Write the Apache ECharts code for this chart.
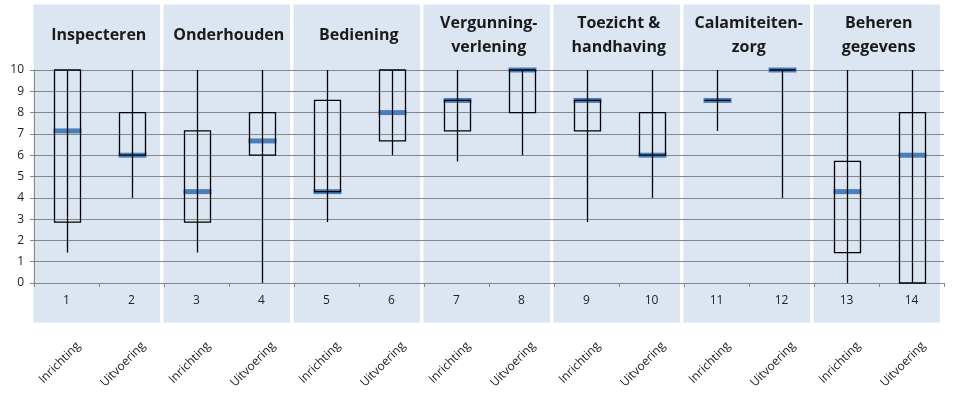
<!DOCTYPE html>
<html>
<head>
<meta charset="utf-8">
<script src="https://cdn.jsdelivr.net/npm/echarts@6/dist/echarts.min.js"></script>
<style>
html,body{margin:0;padding:0;background:#fff;}
#chart{width:960px;height:416px;}
</style>
</head>
<body>
<div id="chart"></div>
<script>
const categories = ['1','2','3','4','5','6','7','8','9','10','11','12','13','14'];
const phaseLabels = ['Inrichting','Uitvoering','Inrichting','Uitvoering','Inrichting','Uitvoering','Inrichting','Uitvoering','Inrichting','Uitvoering','Inrichting','Uitvoering','Inrichting','Uitvoering'];
const groupTitles = ['Inspecteren','Onderhouden','Bediening','Vergunning-\nverlening','Toezicht &\nhandhaving','Calamiteiten-\nzorg','Beheren\ngegevens'];
const groupStart = [0,2,4,6,8,10,12];
const minValues    = [1.43, 4,    1.43, 0,    2.86, 6,    5.71, 6,  2.86, 4, 7.14, 4,  0,    0];
const q1Values     = [2.86, 6,    2.86, 6,    4.29, 6.67, 7.14, 8,  7.14, 6, 8.57, 10, 1.43, 0];
const medianValues = [7.14, 6,    4.29, 6.67, 4.29, 8,    8.57, 10, 8.57, 6, 8.57, 10, 4.29, 6];
const q3Values     = [10,   8,    7.14, 8,    8.57, 10,   8.57, 10, 8.57, 8, 8.57, 10, 5.71, 8];
const maxValues    = [10,   10,   10,   10,   10,   10,   10,   10, 10,   10, 10,   10, 10,   10];
const yMin = 0, yMax = 10, yInterval = 1;

const FONT = 'Open Sans';
const boxData = categories.map((c, i) => [i, minValues[i], q1Values[i], medianValues[i], q3Values[i], maxValues[i]]);
const panelData = groupStart.map((s, g) => [s, g]);

const chart = echarts.init(document.getElementById('chart'), null, {renderer: 'canvas'});
chart.setOption({
  animation: false,
  backgroundColor: '#ffffff',
  grid: [
    {left: 34, right: 16, top: 70, bottom: 133},
    {left: 46, right: 4, top: 70, bottom: 133}
  ],
  xAxis: [
    {
      type: 'category', gridIndex: 0, data: categories, boundaryGap: true, z: 2,
      axisLine: {show: true, lineStyle: {color: '#868686', width: 1}},
      axisTick: {show: true, length: 4, lineStyle: {color: '#868686'}},
      axisLabel: {margin: 12, fontFamily: FONT, fontSize: 12, color: '#222'},
      splitLine: {show: false}
    },
    {
      type: 'category', gridIndex: 1, data: phaseLabels, boundaryGap: true,
      axisLine: {show: false}, axisTick: {show: false},
      axisLabel: {rotate: 45, margin: 61, fontFamily: FONT, fontSize: 12, color: '#222', interval: 0}
    }
  ],
  yAxis: [
    {
      type: 'value', gridIndex: 0, min: yMin, max: yMax, interval: yInterval, z: 2,
      axisLine: {show: true, lineStyle: {color: '#868686'}},
      axisTick: {show: true, length: 4, lineStyle: {color: '#868686'}},
      axisLabel: {margin: 10, fontFamily: FONT, fontSize: 12, color: '#222'},
      splitLine: {show: true, lineStyle: {color: '#868686', width: 1}}
    },
    {type: 'value', gridIndex: 1, min: 0, max: 1, show: false}
  ],
  series: [
    {
      type: 'custom', xAxisIndex: 0, yAxisIndex: 0, z: 1, clip: false, silent: true,
      data: panelData,
      renderItem: function (params, api) {
        const s = api.value(0), g = api.value(1);
        const band = api.size([1, 0])[0];
        const cA = api.coord([s, 0]);
        const cB = api.coord([s + 1, 0]);
        const left = cA[0] - band / 2 - 0.5;
        const right = cB[0] + band / 2 - 4;
        const top = api.coord([s, 13.07])[1];
        const bottom = api.coord([s, -1.85])[1];
        const mid = api.coord([s, 11.6])[1];
        return {
          type: 'group',
          children: [
            {type: 'rect', shape: {x: left, y: top, width: right - left, height: bottom - top},
             style: {fill: '#dce6f2'}},
            {type: 'text', style: {
              text: groupTitles[g], x: (left + right + 4) / 2, y: mid,
              align: 'center', verticalAlign: 'middle',
              fontFamily: FONT, fontWeight: 'bold', fontSize: 16, lineHeight: 24, fill: '#1a1a1a'}}
          ]
        };
      }
    },
    {
      type: 'custom', xAxisIndex: 0, yAxisIndex: 0, z: 3, silent: true,
      data: boxData,
      encode: {x: 0, y: [1, 2, 3, 4, 5]},
      renderItem: function (params, api) {
        const i = api.value(0);
        const pMin = api.coord([i, api.value(1)]);
        const pQ1 = api.coord([i, api.value(2)]);
        const pMed = api.coord([i, api.value(3)]);
        const pQ3 = api.coord([i, api.value(4)]);
        const pMax = api.coord([i, api.value(5)]);
        const x = Math.round(pMed[0]) + 0.5;
        const bw = 26;
        return {
          type: 'group',
          children: [
            {type: 'rect', shape: {x: x - 14, y: pMed[1] - 2.5, width: 28, height: 5},
             style: {fill: '#4a7ebb'}},
            {type: 'line', shape: {x1: x, y1: pMax[1], x2: x, y2: pMin[1]},
             style: {stroke: '#000', lineWidth: 1.3}},
            {type: 'rect', shape: {x: x - bw / 2, y: pQ3[1], width: bw, height: pQ1[1] - pQ3[1]},
             style: {fill: 'none', stroke: '#000', lineWidth: 1.3}}
          ]
        };
      }
    }
  ]
});
</script>
</body>
</html>
